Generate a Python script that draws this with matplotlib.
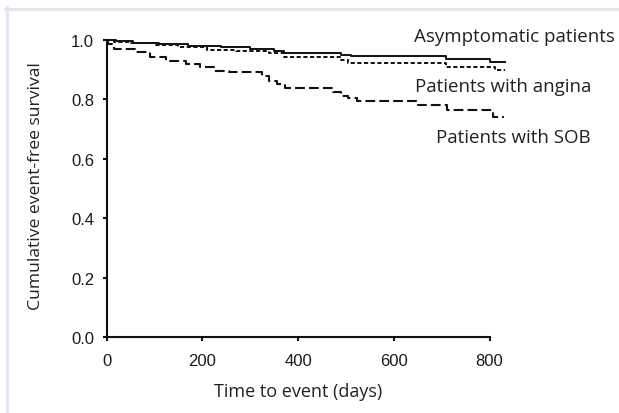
import matplotlib.pyplot as plt
from matplotlib.lines import Line2D

plt.rcParams['lines.scale_dashes'] = False

# step data
asym_t = [0, 20, 55, 110, 170, 240, 300, 350, 370, 490, 510, 710, 800, 833]
asym_s = [1.0, 0.995, 0.99, 0.985, 0.979, 0.974, 0.969, 0.962, 0.955, 0.95, 0.944, 0.935, 0.926, 0.926]

angina_t = [0, 15, 50, 100, 150, 210, 270, 340, 370, 490, 505, 710, 812, 833]
angina_s = [1.0, 0.993, 0.988, 0.982, 0.975, 0.966, 0.961, 0.955, 0.941, 0.933, 0.922, 0.909, 0.899, 0.899]

sob_t = [0, 3, 15, 60, 90, 125, 165, 195, 225, 255, 325, 340, 355, 373, 473, 490, 505, 523, 650, 712, 808, 830]
sob_s = [1.0, 0.985, 0.968, 0.958, 0.941, 0.929, 0.918, 0.907, 0.896, 0.89, 0.877, 0.862, 0.85, 0.837, 0.825,
         0.812, 0.803, 0.795, 0.781, 0.765, 0.741, 0.741]

x_ticks = [0, 200, 400, 600, 800]
y_ticks = [0.0, 0.2, 0.4, 0.6, 0.8, 1.0]

W, H = 619, 414
fig = plt.figure(figsize=(W / 100, H / 100), dpi=100)
ax = fig.add_axes([0.1722, 0.1829, 0.6186, 0.7188])

col = '#111111'
ax.plot(asym_t, asym_s, drawstyle='steps-post', color=col, lw=1.4, clip_on=False)
ax.plot(angina_t, angina_s, drawstyle='steps-post', color=col, lw=1.4, dashes=(3, 1.8), clip_on=False)
ax.plot(sob_t, sob_s, drawstyle='steps-post', color=col, lw=1.5, dashes=(7, 3), clip_on=False)

ax.set_xlim(0, 800)
ax.set_ylim(0, 1.0)
ax.set_xticks(x_ticks)
ax.set_yticks(y_ticks)
ax.set_xticklabels([str(v) for v in x_ticks], family='Liberation Sans', fontsize=12)
ax.set_yticklabels([f'{v:.1f}' for v in y_ticks], family='Liberation Sans', fontsize=12)
ax.tick_params(axis='both', length=3, width=1.5, color=col, labelcolor='#1a1a1a')
ax.tick_params(axis='x', pad=8)
ax.tick_params(axis='y', pad=6)

for s in ['top', 'right']:
    ax.spines[s].set_visible(False)
for s in ['left', 'bottom']:
    ax.spines[s].set_linewidth(1.5)
    ax.spines[s].set_color(col)

txt = dict(family=['Open Sans', 'DejaVu Sans'], color='#222222')
fig.text(298 / W, 1 - 392 / H, 'Time to event (days)', ha='center', va='center', fontsize=13, **txt)
fig.text(36 / W, 1 - 186 / H, 'Cumulative event-free survival', ha='center', va='center',
         rotation=90, fontsize=12.6, **txt)

fig.text(414 / W, 1 - 37 / H, 'Asymptomatic patients', ha='left', va='center', fontsize=13.5, **txt)
fig.text(591 / W, 1 - 87 / H, 'Patients with angina', ha='right', va='center', fontsize=13.5, **txt)
fig.text(591 / W, 1 - 138 / H, 'Patients with SOB', ha='right', va='center', fontsize=13.5, **txt)

# light frame at top and left
frame = '#e2e5f2'
fig.add_artist(Line2D([6.5 / W, 6.5 / W], [0, 1 - 8 / H], color=frame, lw=2.2, transform=fig.transFigure))
fig.add_artist(Line2D([5 / W, 1], [1 - 9.5 / H, 1 - 9.5 / H], color=frame, lw=2.2, transform=fig.transFigure))

fig.savefig('out.png', dpi=100)
